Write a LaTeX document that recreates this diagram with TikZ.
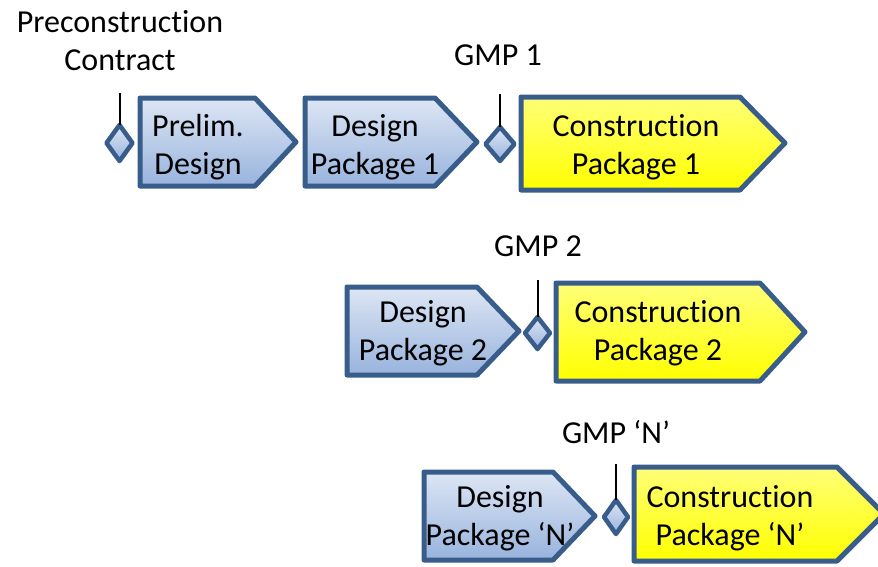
\documentclass[tikz,border=0pt]{standalone}
\usepackage{fontspec}
\setmainfont[Ligatures=NoCommon]{Carlito}
\definecolor{edge}{HTML}{385D8A}
\definecolor{bluetop}{HTML}{DDE6F4}
\definecolor{bluebot}{HTML}{98B3DD}
\definecolor{yeltop}{HTML}{FFFF78}
\definecolor{yelbot}{HTML}{FFFF00}
\tikzset{
  stagebox/.style={draw=edge, line width=5pt, line join=round},
  designfill/.style={stagebox, top color=bluetop, bottom color=bluebot},
  buildfill/.style={stagebox, top color=yeltop, bottom color=yelbot},
  milestone/.style={draw=edge, line width=4.5pt, line join=round, top color=bluetop, bottom color=bluebot},
  tick/.style={draw=black, line width=2pt},
  lbl/.style={font=\fontsize{32}{38}\selectfont, align=center, inner sep=0pt},
}
% pentagon arrow: style, left, top, bottom, body end, tip x, centre y
\newcommand\homeplate[7]{%
  \path[#1] (#2,#3) -- (#5,#3) -- (#6,#7) -- (#5,#4) -- (#2,#4) -- cycle;}
% diamond: centre x, centre y, half width, half height
\newcommand\milediamond[4]{%
  \path[milestone] (#1,#2-#4) -- (#1+#3,#2) -- (#1,#2+#4) -- (#1-#3,#2) -- cycle;}
\begin{document}
\begin{tikzpicture}[x=1pt, y=-1pt]
\useasboundingbox (0,0) rectangle (878,566);

% ---- first row
\homeplate{designfill}{140}{98}{186}{255}{296}{142}
\homeplate{designfill}{305}{98}{186}{435}{477}{142}
\homeplate{buildfill}{521}{97}{190}{740}{785}{143}
\milediamond{119.5}{143}{13}{18}
\milediamond{500}{144}{14.5}{17}
\node[lbl] (prelim) at (198,147) {Prelim.\\Design};
\node[lbl] (dp1) at (375,147) {Design\\Package 1};
\node[lbl] (cp1) at (636,147) {Construction\\Package 1};
\node[lbl] (precon) at (120,41) {Preconstruction\\Contract};
\node[lbl] (gmp1) at (498,55) {GMP 1};
\coordinate (d1top) at (119.5,125);
\coordinate (d1end) at (119.5,93);
\coordinate (d2top) at (500,127);
\coordinate (d2end) at (500,94);
\draw[tick] (d1top) -- (d1end);
\draw[tick] (d2top) -- (d2end);

% ---- second row
\homeplate{designfill}{347}{287}{375}{477}{519}{331}
\homeplate{buildfill}{556}{283}{381}{760}{805}{332}
\milediamond{537.5}{333}{12.5}{16}
\node[lbl] (dp2) at (423,333) {Design\\Package 2};
\node[lbl] (cp2) at (658,333) {Construction\\Package 2};
\node[lbl] (gmp2) at (538,246) {GMP 2};
\coordinate (d3top) at (537.5,317);
\coordinate (d3end) at (537.5,280);
\draw[tick] (d3top) -- (d3end);

% ---- last row
\homeplate{designfill}{424}{472}{560}{553}{595}{516}
\homeplate{buildfill}{634}{467}{561}{837}{884}{514}
\milediamond{616}{517}{12}{17}
\node[lbl] (dpn) at (500,518) {Design\\Package ‘N’};
\node[lbl] (cpn) at (730,518) {Construction\\Package ‘N’};
\node[lbl] (gmpn) at (616,432) {GMP ‘N’};
\coordinate (d4top) at (616,500);
\coordinate (d4end) at (616,464);
\draw[tick] (d4top) -- (d4end);
\end{tikzpicture}
\end{document}
